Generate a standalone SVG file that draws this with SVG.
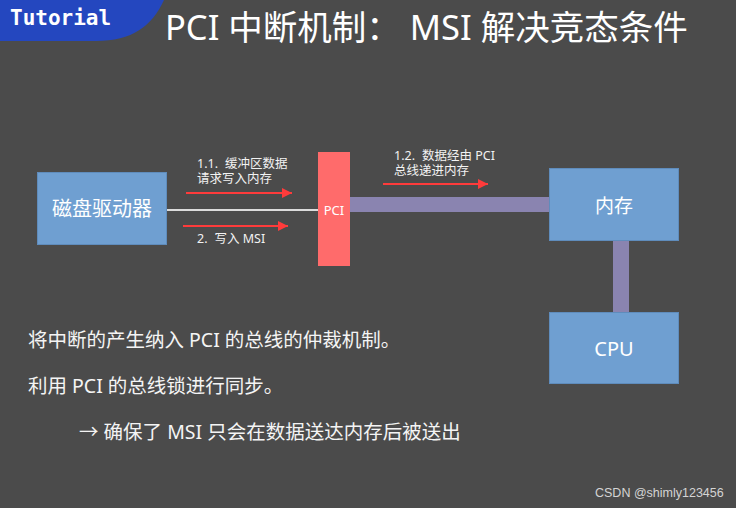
<svg xmlns="http://www.w3.org/2000/svg" width="736" height="508" viewBox="0 0 736 508">
<defs>
<marker id="ah" viewBox="0 0 10 10" refX="10" refY="5" markerWidth="10" markerHeight="10" markerUnits="userSpaceOnUse" orient="auto">
<path d="M0,0 L10,5 L0,10 Z" fill="#ff3b3b"/>
</marker>
<style>
.cjk{font-family:"Noto Sans","Noto Sans CJK SC",sans-serif;fill:#ffffff}
.box{fill:#6f9fd1;stroke:#5f8cbc;stroke-width:1}
.lbl{font-size:12.5px;fill:#f2f2f2}
.arr{stroke:#ff3b3b;stroke-width:2;fill:none;marker-end:url(#ah)}
.bus{fill:#8a84b0}
.body{font-size:19.5px;fill:#f4f4f4}
</style>
</defs>
<rect width="736" height="508" fill="#4b4b4b"/>
<g id="badge">
<path d="M0,0 H164 C152,26 132,41 96,41 H0 Z" fill="#2447bf"/>
<text x="10" y="25" font-family="DejaVu Sans Mono,monospace" font-weight="bold" font-size="21" fill="#ffffff">Tutorial</text>
</g>
<text class="cjk" x="165" y="40" font-size="34.5">PCI 中断机制： MSI 解决竞态条件</text>
<g id="connectors">
<line x1="167" y1="210" x2="318" y2="210" stroke="#dcdcdc" stroke-width="2"/>
<rect class="bus" x="350" y="197" width="199" height="15"/>
<rect class="bus" x="613" y="241" width="16" height="71"/>
<line class="arr" x1="186" y1="193" x2="292" y2="193"/>
<line class="arr" x1="183" y1="226" x2="288" y2="226"/>
<line class="arr" x1="383" y1="184" x2="488" y2="184"/>
<text class="cjk lbl" x="197" y="168">1.1.<tspan dx="7">缓冲区数据</tspan></text>
<text class="cjk lbl" x="197" y="183">请求写入内存</text>
<text class="cjk lbl" x="197" y="243">2.<tspan dx="7">写入 MSI</tspan></text>
<text class="cjk lbl" x="394" y="160">1.2.<tspan dx="7">数据经由 PCI</tspan></text>
<text class="cjk lbl" x="394" y="175">总线递进内存</text>
</g>
<g id="disk">
<rect class="box" x="37.5" y="172.5" width="129" height="72"/>
<text class="cjk" x="102" y="216" font-size="20" text-anchor="middle">磁盘驱动器</text>
</g>
<g id="pci">
<rect x="318" y="152" width="32" height="114" fill="#ff6b6b"/>
<text class="cjk" x="334" y="215" font-size="13" text-anchor="middle">PCI</text>
</g>
<g id="memory">
<rect class="box" x="549.5" y="168.5" width="129" height="72"/>
<text class="cjk" x="614" y="213" font-size="19" text-anchor="middle">内存</text>
</g>
<g id="cpu">
<rect class="box" x="549.5" y="312.5" width="129" height="71"/>
<text class="cjk" x="614" y="356" font-size="20" text-anchor="middle">CPU</text>
</g>
<text class="cjk body" x="28" y="347">将中断的产生纳入 PCI 的总线的仲裁机制。</text>
<text class="cjk body" x="28" y="393">利用 PCI 的总线锁进行同步。</text>
<text class="cjk body" x="79" y="439">→ 确保了 MSI 只会在数据送达内存后被送出</text>
<text x="595" y="497" font-family="Liberation Sans,sans-serif" font-size="12.5" fill="#d4d4d4">CSDN @shimly123456</text>
</svg>
